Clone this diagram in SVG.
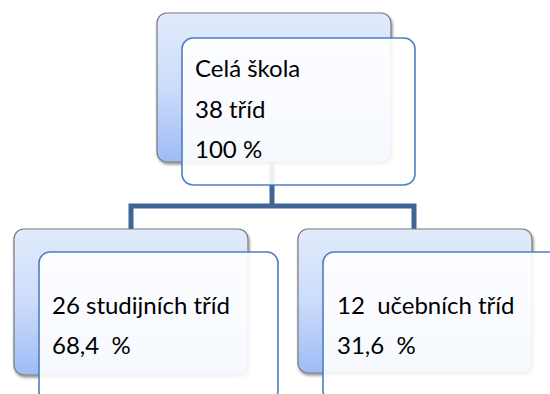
<svg xmlns="http://www.w3.org/2000/svg" width="550" height="394" viewBox="0 0 550 394">
<defs>
<linearGradient id="bg" x1="0" y1="0" x2="0" y2="1">
<stop offset="0" stop-color="#e2ebfb"/>
<stop offset="0.5" stop-color="#ccdcfa"/>
<stop offset="1" stop-color="#9dbcf5"/>
</linearGradient>
<filter id="sh" x="-10%" y="-10%" width="125%" height="130%">
<feGaussianBlur in="SourceAlpha" stdDeviation="1.5"/>
<feOffset dx="1" dy="2" result="b"/>
<feComponentTransfer><feFuncA type="linear" slope="0.45"/></feComponentTransfer>
<feMerge><feMergeNode/><feMergeNode in="SourceGraphic"/></feMerge>
</filter>
</defs>
<style>
.back{fill:url(#bg);stroke:#7a7a7a;stroke-width:1.2;filter:url(#sh)}
.front{fill:#ffffff;fill-opacity:0.9;stroke:#4f7fbd;stroke-width:1.6}
.conn{fill:none;stroke:#3e6596;stroke-width:5}
text{font-family:Lato,"Open Sans",sans-serif;font-size:24px;fill:#000;white-space:pre}
</style>
<rect width="550" height="394" fill="#ffffff"/>
<g id="connectors">
<path class="conn" d="M272 160 V206 M131 232 V206 H414 V232"/>
</g>
<g id="node-top">
<rect class="back" x="157" y="13" width="234" height="149" rx="10"/>
<rect class="front" x="182" y="38" width="233" height="147" rx="11"/>
<text x="195" y="77">Celá škola</text>
<text x="195" y="118">38 tříd</text>
<text x="195" y="158">100 %</text>
</g>
<g id="node-left">
<rect class="back" x="14" y="229" width="234" height="146" rx="10"/>
<rect class="front" x="39" y="252" width="239" height="150" rx="11"/>
<text x="52" y="314">26 studijních tříd</text>
<text x="52" y="354">68,4  %</text>
</g>
<g id="node-right">
<rect class="back" x="298" y="229" width="234" height="144" rx="10"/>
<rect class="front" x="323" y="252" width="239" height="150" rx="11"/>
<text x="337" y="314">12  učebních tříd</text>
<text x="337" y="354">31,6  %</text>
</g>
</svg>
